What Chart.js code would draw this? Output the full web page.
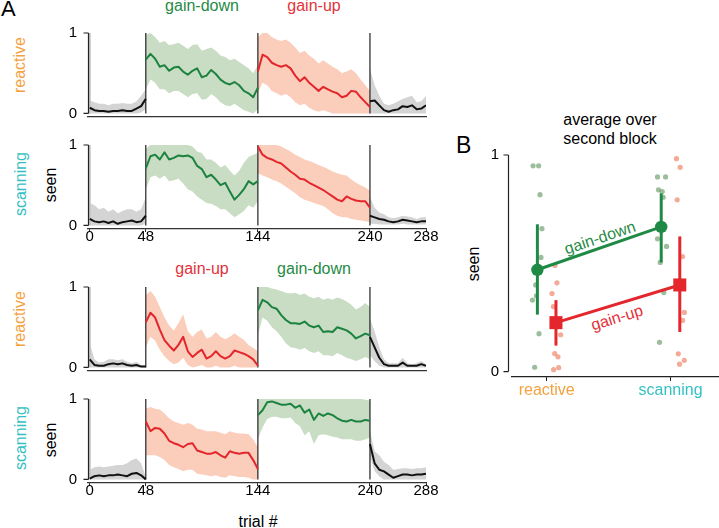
<!DOCTYPE html>
<html>
<head>
<meta charset="utf-8">
<script src="https://cdn.jsdelivr.net/npm/chart.js@4.4.1/dist/chart.umd.min.js"></script>
<style>
  body { margin: 0; width: 719px; height: 528px; position: relative; overflow: hidden; background: #fff;
         font-family: "Liberation Sans", Arial, sans-serif; }
  canvas { position: absolute; }
  .t { position: absolute; white-space: nowrap; font-size: 16px; line-height: 1; }
  .c { transform: translateX(-50%); }
  .r { transform: translate(-50%, -50%) rotate(-90deg); }
</style>
</head>
<body>
<div class="t" style="left:1px;top:-2px;font-size:22px">A</div>
<div class="t c" style="left:202px;top:-2px;color:#1f8a45">gain-down</div>
<div class="t c" style="left:314px;top:-2px;color:#e4313a">gain-up</div>
<div class="t c" style="left:202px;top:261px;color:#e4313a">gain-up</div>
<div class="t c" style="left:314px;top:261px;color:#1f8a45">gain-down</div>

<div class="t r" style="left:20px;top:65px;color:#f4a241">reactive</div>
<div class="t r" style="left:21px;top:184px;color:#35bfc4">scanning</div>
<div class="t r" style="left:51px;top:185px">seen</div>
<div class="t r" style="left:20px;top:319px;color:#f4a241">reactive</div>
<div class="t r" style="left:21px;top:438px;color:#35bfc4">scanning</div>
<div class="t r" style="left:51px;top:440px">seen</div>
<div class="t c" style="left:258px;top:514px">trial #</div>

<div class="t" style="left:456px;top:134px;font-size:23px">B</div>
<div class="t c" style="left:610px;top:112px">average over</div>
<div class="t c" style="left:610px;top:131px">second block</div>
<div class="t r" style="left:474px;top:264px">seen</div>
<div class="t c" style="left:600px;top:230px;color:#1f8a45;transform:translateX(-50%) rotate(-18.5deg)">gain-down</div>
<div class="t c" style="left:617px;top:310px;color:#e4313a;transform:translateX(-50%) rotate(-17deg)">gain-up</div>

<canvas id="a1" width="440" height="124"></canvas>
<canvas id="a2" width="440" height="124"></canvas>
<canvas id="a3" width="440" height="124"></canvas>
<canvas id="a4" width="440" height="124"></canvas>
<canvas id="b" width="279" height="320"></canvas>

<script>
// --- panel A: fraction seen per trial, sampled every 4 trials, one sub-array per block ---
const TRIAL_STEP = 4;
const blockStarts = [0, 48, 144, 240];
const blockEdges = [48, 144, 240];
const trialTicks = [0, 48, 144, 240, 288];
const session1 = ['base', 'down', 'up', 'base'];
const session2 = ['base', 'up', 'down', 'base'];

const react1Mean = [
  [0.07, 0.04, 0.03, 0.03, 0.02, 0.03, 0.03, 0.04, 0.03, 0.03, 0.06, 0.09, 0.18],
  [0.67, 0.74, 0.68, 0.58, 0.60, 0.53, 0.57, 0.58, 0.52, 0.48, 0.53, 0.56, 0.45, 0.47, 0.54, 0.49, 0.42, 0.38, 0.36, 0.39, 0.35, 0.28, 0.25, 0.20, 0.32],
  [0.52, 0.73, 0.70, 0.63, 0.60, 0.58, 0.60, 0.56, 0.47, 0.40, 0.45, 0.38, 0.33, 0.28, 0.33, 0.30, 0.27, 0.25, 0.20, 0.22, 0.28, 0.27, 0.20, 0.14, 0.08],
  [0.15, 0.16, 0.10, 0.04, 0.02, 0.04, 0.05, 0.09, 0.08, 0.10, 0.05, 0.06, 0.10]
];
const react1Hi = [
  [0.16, 0.14, 0.12, 0.12, 0.10, 0.12, 0.12, 0.13, 0.12, 0.12, 0.15, 0.22, 0.30],
  [0.98, 1.00, 0.95, 0.88, 0.90, 0.85, 0.86, 0.88, 0.84, 0.80, 0.85, 0.86, 0.78, 0.80, 0.82, 0.78, 0.72, 0.70, 0.66, 0.68, 0.64, 0.60, 0.56, 0.50, 0.60],
  [0.95, 1.00, 1.00, 0.95, 0.92, 0.90, 0.92, 0.88, 0.82, 0.75, 0.78, 0.72, 0.68, 0.62, 0.66, 0.62, 0.58, 0.55, 0.50, 0.52, 0.55, 0.50, 0.42, 0.35, 0.28],
  [0.55, 0.35, 0.22, 0.12, 0.10, 0.12, 0.15, 0.18, 0.20, 0.22, 0.14, 0.15, 0.22]
];
const react1Lo = [
  [0, 0, 0, 0, 0, 0, 0, 0, 0, 0, 0, 0.01, 0.05],
  [0.30, 0.42, 0.38, 0.30, 0.30, 0.25, 0.28, 0.28, 0.24, 0.20, 0.24, 0.25, 0.17, 0.18, 0.24, 0.20, 0.14, 0.10, 0.09, 0.12, 0.08, 0.04, 0.02, 0, 0.05],
  [0.25, 0.38, 0.35, 0.28, 0.25, 0.22, 0.24, 0.20, 0.14, 0.10, 0.12, 0.07, 0.04, 0.02, 0.04, 0.02, 0, 0, 0, 0, 0, 0, 0, 0, 0],
  [0, 0, 0, 0, 0, 0, 0, 0, 0, 0, 0, 0, 0]
];

const scan1Mean = [
  [0.08, 0.05, 0.04, 0.05, 0.03, 0.05, 0.02, 0.04, 0.05, 0.06, 0.04, 0.05, 0.12],
  [0.71, 0.86, 0.88, 0.82, 0.91, 0.82, 0.84, 0.87, 0.86, 0.87, 0.84, 0.74, 0.70, 0.60, 0.63, 0.57, 0.50, 0.53, 0.42, 0.32, 0.38, 0.45, 0.55, 0.51, 0.55],
  [0.98, 0.88, 0.84, 0.82, 0.79, 0.77, 0.72, 0.67, 0.63, 0.58, 0.57, 0.53, 0.50, 0.47, 0.44, 0.40, 0.36, 0.32, 0.30, 0.36, 0.33, 0.31, 0.30, 0.30, 0.22],
  [0.12, 0.10, 0.08, 0.07, 0.05, 0.04, 0.05, 0.07, 0.06, 0.05, 0.04, 0.05, 0.05]
];
const scan1Hi = [
  [0.28, 0.25, 0.20, 0.22, 0.17, 0.20, 0.15, 0.18, 0.20, 0.20, 0.17, 0.20, 0.35],
  [0.95, 1, 1, 1, 1, 1, 1, 1, 1, 1, 0.98, 0.92, 0.90, 0.82, 0.82, 0.78, 0.72, 0.75, 0.68, 0.62, 0.68, 0.78, 0.85, 0.88, 0.90],
  [1, 1, 1, 1, 1, 0.98, 0.95, 0.92, 0.88, 0.85, 0.82, 0.80, 0.78, 0.75, 0.73, 0.70, 0.67, 0.65, 0.63, 0.62, 0.57, 0.53, 0.50, 0.47, 0.43],
  [0.35, 0.22, 0.16, 0.14, 0.10, 0.09, 0.10, 0.12, 0.11, 0.10, 0.08, 0.10, 0.10]
];
const scan1Lo = [
  [0, 0, 0, 0, 0, 0, 0, 0, 0, 0, 0, 0, 0.02],
  [0.45, 0.60, 0.62, 0.58, 0.62, 0.55, 0.56, 0.58, 0.52, 0.45, 0.42, 0.36, 0.32, 0.28, 0.27, 0.24, 0.20, 0.20, 0.15, 0.10, 0.14, 0.18, 0.25, 0.22, 0.30],
  [0.65, 0.62, 0.60, 0.57, 0.55, 0.52, 0.48, 0.44, 0.40, 0.35, 0.32, 0.30, 0.28, 0.26, 0.24, 0.20, 0.15, 0.12, 0.10, 0.10, 0.08, 0.07, 0.06, 0.05, 0.04],
  [0.02, 0.02, 0.01, 0.01, 0.01, 0.01, 0.01, 0.02, 0.01, 0.01, 0.01, 0.01, 0.01]
];

const react2Mean = [
  [0.10, 0.03, 0.02, 0.02, 0.04, 0.05, 0.04, 0.05, 0.03, 0.02, 0.03, 0.01, 0.01],
  [0.56, 0.68, 0.62, 0.47, 0.34, 0.27, 0.21, 0.28, 0.38, 0.20, 0.13, 0.18, 0.22, 0.11, 0.14, 0.20, 0.14, 0.11, 0.14, 0.21, 0.19, 0.17, 0.14, 0.10, 0.02],
  [0.71, 0.84, 0.81, 0.75, 0.73, 0.65, 0.59, 0.55, 0.55, 0.54, 0.57, 0.52, 0.50, 0.52, 0.44, 0.45, 0.44, 0.50, 0.48, 0.46, 0.42, 0.36, 0.39, 0.42, 0.40],
  [0.38, 0.25, 0.12, 0.04, 0.02, 0.02, 0.02, 0.06, 0.02, 0.02, 0.02, 0.04, 0.02]
];
const react2Hi = [
  [0.30, 0.10, 0.06, 0.07, 0.10, 0.10, 0.09, 0.10, 0.07, 0.05, 0.07, 0.03, 0.02],
  [0.90, 0.95, 0.88, 0.75, 0.62, 0.52, 0.46, 0.55, 0.66, 0.45, 0.38, 0.44, 0.47, 0.36, 0.38, 0.44, 0.38, 0.35, 0.38, 0.42, 0.38, 0.34, 0.28, 0.24, 0.20],
  [1, 1, 1, 0.98, 0.97, 0.95, 0.93, 0.92, 0.93, 0.90, 0.92, 0.88, 0.86, 0.88, 0.84, 0.86, 0.84, 0.87, 0.85, 0.82, 0.78, 0.72, 0.75, 0.80, 0.75],
  [0.60, 0.45, 0.25, 0.10, 0.05, 0.05, 0.05, 0.12, 0.05, 0.04, 0.05, 0.08, 0.04]
];
const react2Lo = [
  [0, 0, 0, 0, 0, 0, 0, 0, 0, 0, 0, 0, 0],
  [0.25, 0.38, 0.33, 0.22, 0.14, 0.08, 0.04, 0.06, 0.12, 0.03, 0, 0.01, 0.03, 0, 0, 0.02, 0, 0, 0, 0.02, 0, 0, 0, 0, 0],
  [0.40, 0.62, 0.58, 0.50, 0.45, 0.38, 0.30, 0.25, 0.24, 0.22, 0.24, 0.20, 0.18, 0.20, 0.15, 0.15, 0.14, 0.18, 0.15, 0.12, 0.10, 0.08, 0.10, 0.13, 0.10],
  [0.15, 0.08, 0.02, 0, 0, 0, 0, 0, 0, 0, 0, 0, 0]
];

const scan2Mean = [
  [0.01, 0.04, 0.05, 0.04, 0.05, 0.05, 0.06, 0.05, 0.04, 0.07, 0.08, 0.05, 0.00],
  [0.72, 0.60, 0.64, 0.63, 0.57, 0.48, 0.45, 0.43, 0.40, 0.44, 0.45, 0.36, 0.34, 0.32, 0.32, 0.34, 0.30, 0.27, 0.35, 0.33, 0.32, 0.33, 0.33, 0.24, 0.13],
  [0.80, 0.86, 0.96, 0.97, 0.95, 0.93, 0.93, 0.94, 0.89, 0.92, 0.83, 0.87, 0.74, 0.82, 0.79, 0.82, 0.80, 0.76, 0.73, 0.72, 0.74, 0.72, 0.72, 0.74, 0.73],
  [0.44, 0.20, 0.12, 0.10, 0.06, 0.02, 0.04, 0.06, 0.06, 0.05, 0.06, 0.06, 0.07]
];
const scan2Hi = [
  [0.12, 0.15, 0.16, 0.15, 0.16, 0.17, 0.18, 0.18, 0.20, 0.24, 0.26, 0.20, 0.03],
  [0.88, 0.90, 0.88, 0.87, 0.82, 0.76, 0.72, 0.70, 0.68, 0.70, 0.68, 0.63, 0.62, 0.60, 0.60, 0.60, 0.58, 0.56, 0.60, 0.58, 0.57, 0.57, 0.56, 0.50, 0.40],
  [1, 1, 1, 1, 1, 1, 1, 1, 1, 1, 1, 1, 1, 1, 1, 1, 1, 1, 1, 1, 1, 1, 1, 0.99, 0.98],
  [0.60, 0.35, 0.30, 0.22, 0.18, 0.12, 0.13, 0.14, 0.14, 0.13, 0.14, 0.14, 0.15]
];
const scan2Lo = [
  [0, 0, 0, 0, 0, 0, 0, 0, 0, 0, 0, 0, 0],
  [0.30, 0.30, 0.30, 0.28, 0.24, 0.18, 0.15, 0.13, 0.10, 0.12, 0.12, 0.07, 0.06, 0.05, 0.04, 0.05, 0.03, 0.02, 0.05, 0.04, 0.03, 0.03, 0.02, 0, 0],
  [0.50, 0.65, 0.75, 0.78, 0.78, 0.76, 0.76, 0.77, 0.70, 0.66, 0.55, 0.60, 0.44, 0.55, 0.56, 0.55, 0.53, 0.52, 0.50, 0.50, 0.50, 0.48, 0.48, 0.50, 0.52],
  [0.28, 0.10, 0.04, 0, 0, 0, 0, 0, 0, 0, 0, 0, 0]
];

// --- panel B: average over second block ---
const bCategories = ['reactive', 'scanning'];
const downMean = [0.47, 0.668];
const downLo = [0.263, 0.504];
const downHi = [0.68, 0.823];
const upMean = [0.226, 0.40];
const upLo = [0.12, 0.183];
const upHi = [0.33, 0.624];
// individual subjects (value, horizontal jitter in category units)
const downReactive = [0.95, 0.95, 0.817, 0.66, 0.527, 0.40, 0.35, 0.33, 0.175, 0.02];
const downReactiveJit = [-0.11, -0.065, -0.054, -0.038, -0.046, -0.089, -0.083, -0.115, -0.062, -0.097];
const upReactive = [0.49, 0.41, 0.36, 0.30, 0.17, 0.083, 0.068, 0.009, 0.018];
const upReactiveJit = [0.067, 0.083, 0.043, 0.054, 0.113, 0.065, 0.091, 0.056, 0.097];
const downScanning = [0.899, 0.899, 0.839, 0.831, 0.805, 0.613, 0.578, 0.504, 0.365, 0.135];
const downScanningJit = [-0.105, -0.04, -0.097, -0.067, -0.059, -0.105, -0.032, -0.083, -0.054, -0.089];
const upScanning = [0.983, 0.943, 0.793, 0.531, 0.273, 0.236, 0.082, 0.052, 0.034];
const upScanningJit = [0.048, 0.078, 0.054, 0.097, 0.112, 0.097, 0.063, 0.111, 0.073];

const COLORS = {
  base: { line: '#111111', band: '#d4d4d4' },
  down: { line: '#1c823f', band: '#c9dcc4' },
  up: { line: '#e3262c', band: '#fbcdbb' },
};
const CAT_COLORS = ['#f4a241', '#35bfc4'];
const GREEN = '#1f8a45', RED = '#e4262d';
const SHIFT = 0.075;
const FONT = { family: '"Liberation Sans", Arial, sans-serif', size: 15 };

Chart.defaults.font.family = FONT.family;
Chart.defaults.color = '#000';

// y spine only between 0 and 1, like the original axes
const spines = {
  id: 'spines',
  afterDraw(chart, args, opts) {
    const { ctx, chartArea, scales } = chart;
    const x = Math.round(chartArea.left - opts.offset) + 0.5;
    const y0 = scales.y.getPixelForValue(0), y1 = scales.y.getPixelForValue(1);
    ctx.save();
    ctx.strokeStyle = '#222';
    ctx.lineWidth = 1.2;
    ctx.beginPath();
    ctx.moveTo(x, y0);
    ctx.lineTo(x, y1);
    [y0, y1].forEach(py => { ctx.moveTo(x - opts.tick, py); ctx.lineTo(x, py); });
    ctx.stroke();
    ctx.restore();
  }
};

// build the chart twice: the second time the canvas is resized and moved so that
// the plot area lands on the wanted page box
function placeChart(id, makeConfig, box) {
  const canvas = document.getElementById(id);
  let chart = new Chart(canvas, makeConfig());
  const ca = chart.chartArea;
  const w = canvas.width + (box.right - box.left) - (ca.right - ca.left);
  const h = canvas.height + (box.bottom - box.top) - (ca.bottom - ca.top);
  chart.destroy();
  canvas.width = Math.round(w);
  canvas.height = Math.round(h);
  chart = new Chart(canvas, makeConfig());
  canvas.style.left = Math.round(box.left - chart.chartArea.left) + 'px';
  canvas.style.top = Math.round(box.top - chart.chartArea.top) + 'px';
  return chart;
}

function yAxis(min, width, pad) {
  return {
    type: 'linear', min, max: 1,
    afterBuildTicks: s => { s.ticks = [{ value: 0 }, { value: 1 }]; },
    afterFit: s => { s.width = width; },
    ticks: { font: FONT, color: '#000', padding: pad },
    grid: { display: false, drawTicks: false },
    border: { display: false },
  };
}

function traceConfig(mean, hi, lo, session, showX) {
  const datasets = [];
  const pts = (arr, b) => arr.map((v, i) => ({ x: blockStarts[b] + i * TRIAL_STEP, y: v }));
  session.forEach((kind, b) => {
    const c = COLORS[kind];
    datasets.push({ data: pts(mean[b], b), borderColor: c.line, borderWidth: 2, order: 0, fill: false });
    datasets.push({ data: pts(hi[b], b), borderWidth: 0, backgroundColor: c.band, fill: '+1', order: 3 });
    datasets.push({ data: pts(lo[b], b), borderWidth: 0, fill: false, order: 3 });
  });
  datasets.push({ data: [{ x: blockStarts[0], y: 0 }, { x: blockStarts[0], y: 1 }],
                  borderColor: '#c4c4c4', borderWidth: 2, order: 2 });
  blockEdges.forEach(e => datasets.push({
    data: [{ x: e, y: 0 }, { x: e, y: 1 }], borderColor: '#222', borderWidth: 1.2, order: 1 }));

  return {
    type: 'line',
    data: { datasets },
    options: {
      responsive: false, maintainAspectRatio: false, animation: false,
      layout: { padding: { left: 48, right: 14, top: 10, bottom: 10 } },
      elements: { point: { radius: 0 }, line: { tension: 0, borderJoinStyle: 'round' } },
      plugins: { legend: { display: false }, tooltip: { enabled: false }, spines: { offset: 0, tick: 5 } },
      scales: {
        x: {
          type: 'linear', min: -1.5, max: 288,
          afterBuildTicks: s => { s.ticks = trialTicks.map(v => ({ value: v })); },
          afterFit: s => { s.height = 20; },
          ticks: { display: showX, font: FONT, color: '#000', padding: -4, maxRotation: 0, autoSkip: false },
          grid: { display: showX, drawOnChartArea: false, tickLength: 3, color: '#222' },
          border: { display: true, color: '#333', width: 1.2 },
        },
        y: yAxis(-0.045, 40, 11),
      },
    },
    plugins: [spines],
  };
}

const plotTops = [33, 145, 287, 399];
const traces = [
  ['a1', react1Mean, react1Hi, react1Lo, session1, false],
  ['a2', scan1Mean, scan1Hi, scan1Lo, session1, true],
  ['a3', react2Mean, react2Hi, react2Lo, session2, false],
  ['a4', scan2Mean, scan2Hi, scan2Lo, session2, true],
];
traces.forEach(([id, m, hi, lo, s, showX], i) => {
  placeChart(id, () => traceConfig(m, hi, lo, s, showX),
             { left: 88, right: 426, top: plotTops[i], bottom: plotTops[i] + 84 });
});

// panel B
const dots = (vals, jit, cat) => vals.map((v, i) => ({ x: cat + jit[i], y: v }));
const bar = (x, y0, y1, color) => ({
  data: [{ x, y: y0 }, { x, y: y1 }], borderColor: color, borderWidth: 3, pointRadius: 0, order: 1 });

function averageConfig() {
  const sets = [
    { data: dots(downReactive, downReactiveJit, 0).concat(dots(downScanning, downScanningJit, 1)),
      showLine: false, pointRadius: 2.6, pointBackgroundColor: 'rgba(95,150,95,0.62)', pointBorderWidth: 0, order: 3 },
    { data: dots(upReactive, upReactiveJit, 0).concat(dots(upScanning, upScanningJit, 1)),
      showLine: false, pointRadius: 2.6, pointBackgroundColor: 'rgba(238,130,100,0.68)', pointBorderWidth: 0, order: 3 },
  ];
  bCategories.forEach((c, i) => {
    sets.push(bar(i - SHIFT, downLo[i], downHi[i], GREEN));
    sets.push(bar(i + SHIFT, upLo[i], upHi[i], RED));
  });
  sets.push({ data: downMean.map((v, i) => ({ x: i - SHIFT, y: v })), borderColor: GREEN, borderWidth: 3,
              pointRadius: 6.2, pointBackgroundColor: GREEN, pointBorderWidth: 0, order: 0 });
  sets.push({ data: upMean.map((v, i) => ({ x: i + SHIFT, y: v })), borderColor: RED, borderWidth: 3,
              pointStyle: 'rect', pointRadius: 9.2, pointBackgroundColor: RED, pointBorderWidth: 0, order: 0 });
  sets.forEach(d => { d.clip = false; });

  return {
    type: 'line',
    data: { datasets: sets },
    options: {
      responsive: false, maintainAspectRatio: false, animation: false,
      layout: { padding: { left: 32, right: 0, top: 20, bottom: 0 } },
      elements: { line: { tension: 0 } },
      plugins: { legend: { display: false }, tooltip: { enabled: false }, spines: { offset: 4, tick: 5 } },
      scales: {
        x: {
          type: 'linear', min: -0.28, max: 1.39,
          afterBuildTicks: s => { s.ticks = bCategories.map((c, i) => ({ value: i })); },
          afterFit: s => { s.height = 43; },
          ticks: { font: { size: 16 }, padding: 0, maxRotation: 0, autoSkip: false,
                   callback: (v, i) => bCategories[i], color: ctx => CAT_COLORS[ctx.index] },
          grid: { drawOnChartArea: false, tickLength: 4, color: '#222' },
          border: { display: true, color: '#222', width: 1.2 },
        },
        y: yAxis(-0.025, 40, 13),
      },
    },
    plugins: [spines],
  };
}

placeChart('b', averageConfig, { left: 512, right: 719, top: 155, bottom: 377 });
</script>
</body>
</html>
